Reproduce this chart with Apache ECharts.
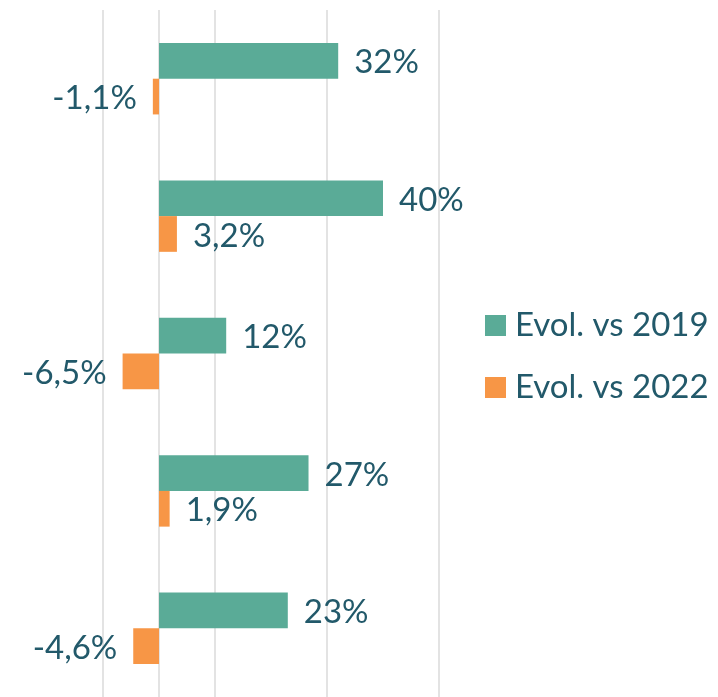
<!DOCTYPE html>
<html><head><meta charset="utf-8">
<script src="https://cdn.jsdelivr.net/npm/echarts@6/dist/echarts.min.js"></script>
<style>html,body{margin:0;padding:0;background:#fff}#c{width:718px;height:697px}</style>
</head><body><div id="c"></div>
<script>
const categories = ['A', 'B', 'C', 'D', 'E'];
const seriesNames = ['Evol. vs 2019', 'Evol. vs 2022'];
const evol2019 = [32, 40, 12, 26.7, 23];
const evol2022 = [-1.1, 3.2, -6.5, 1.9, -4.6];
const colors = ['#5aab97', '#f79646'];
const textColor = '#22596a';
const font = 'Lato';

function fmt(v, dec) {
  return v.toFixed(dec).replace('.', ',') + '%';
}
function items(arr, dec) {
  return arr.map(v => ({
    value: v,
    label: { position: v < 0 ? 'left' : 'right', formatter: fmt(v, dec) }
  }));
}

const chart = echarts.init(document.getElementById('c'));
chart.setOption({
  animation: false,
  textStyle: { fontFamily: font },
  grid: { left: 103, width: 336, top: 10, height: 692, containLabel: false },
  legend: {
    orient: 'vertical', left: 485, top: 309, padding: 0,
    itemWidth: 21, itemHeight: 21, itemGap: 29,
    icon: 'rect',
    textStyle: { color: textColor, fontSize: 33, fontFamily: font, lineHeight: 33, padding: [0, 0, 0, 4] },
    data: seriesNames
  },
  xAxis: {
    type: 'value', min: -10, max: 50, interval: 10,
    axisLabel: { show: false }, axisLine: { show: false }, axisTick: { show: false },
    splitLine: { show: true, lineStyle: { width: 2, color: ['#e3e3e3', '#e3e3e3', '#e3e3e3', 'rgba(0,0,0,0)', '#e3e3e3', 'rgba(0,0,0,0)', '#e3e3e3'] } }
  },
  yAxis: {
    type: 'category', data: categories, inverse: true,
    axisLabel: { show: false }, axisLine: { show: false }, axisTick: { show: false }
  },
  series: [
    {
      name: seriesNames[0], type: 'bar', data: items(evol2019, 0),
      itemStyle: { color: colors[0] }, barGap: '0%', barCategoryGap: '48%',
      label: { show: true, color: textColor, fontSize: 33, fontFamily: font, distance: 16, offset: [0, 2] }
    },
    {
      name: seriesNames[1], type: 'bar', data: items(evol2022, 1),
      itemStyle: { color: colors[1] }, barGap: '0%', barCategoryGap: '48%',
      label: { show: true, color: textColor, fontSize: 33, fontFamily: font, distance: 16, offset: [0, 2] }
    }
  ]
});
</script></body></html>
